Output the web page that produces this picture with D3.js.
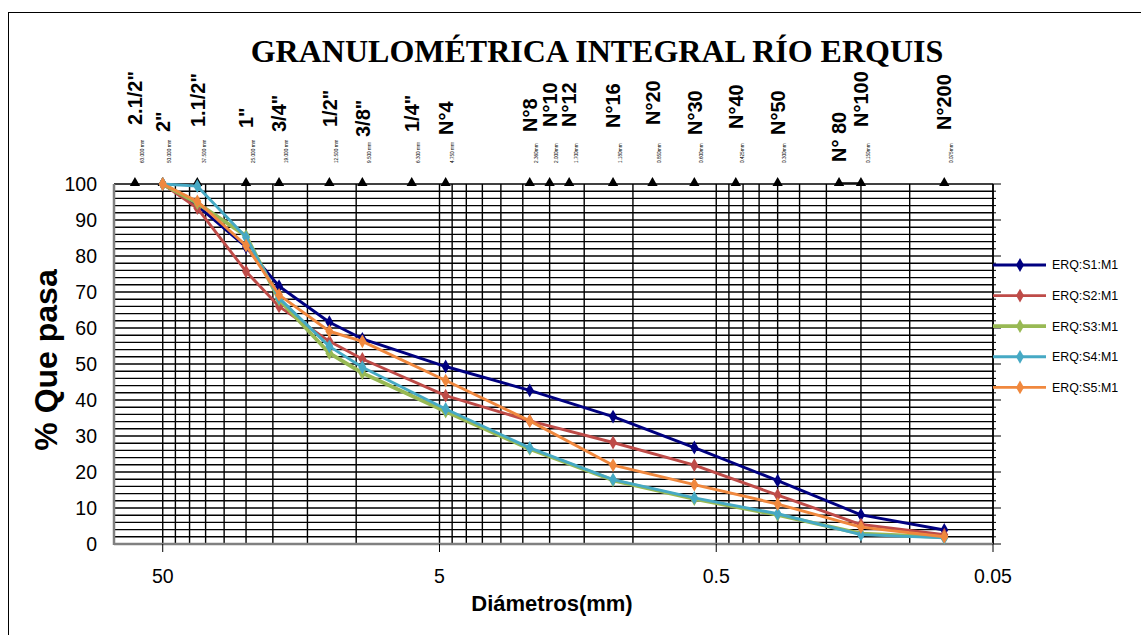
<!DOCTYPE html>
<html>
<head>
<meta charset="utf-8">
<script src="https://cdnjs.cloudflare.com/ajax/libs/d3/7.8.5/d3.min.js"></script>
<style>
  body { margin: 0; background: #fff; }
  svg { display: block; }
</style>
</head>
<body>
<svg id="chart"></svg>
<script>
// sieve sizes in mm (data points of the curves)
const sizes = [50, 37.5, 25, 19, 12.5, 9.5, 4.75, 2.36, 1.18, 0.6, 0.3, 0.15, 0.075];

const s1 = [100, 94.0, 82.5, 71.6, 61.6, 57.0, 49.3, 42.7, 35.4, 26.8, 17.6, 8.1, 3.9];
const s2 = [100, 93.3, 75.7, 66.0, 56.3, 51.4, 41.2, 34.2, 28.2, 21.9, 13.6, 5.4, 2.6];
const s3 = [100, 94.7, 85.6, 67.9, 53.0, 47.5, 36.8, 26.4, 17.7, 12.5, 8.1, 2.9, 1.9];
const s4 = [100, 99.4, 85.2, 68.3, 54.9, 49.1, 37.5, 26.7, 17.9, 12.8, 8.4, 2.6, 1.7];
const s5 = [100, 95.2, 82.9, 69.2, 59.1, 56.3, 45.4, 34.2, 21.9, 16.5, 11.1, 4.7, 2.0];

const seriesNames = ["ERQ:S1:M1", "ERQ:S2:M1", "ERQ:S3:M1", "ERQ:S4:M1", "ERQ:S5:M1"];
const seriesColors = ["#000080", "#BE4B48", "#98B954", "#46A9C4", "#F0883E"];

// sieve markers on top (y = 100)
const sieveMm = [63, 50, 37.5, 25, 19, 12.5, 9.5, 6.3, 4.75, 2.36, 2.0, 1.7, 1.18, 0.85, 0.6, 0.425, 0.3, 0.18, 0.15, 0.075];
const sieveNames = ['2.1/2"', '2"', '1.1/2"', '1"', '3/4"', '1/2"', '3/8"', '1/4"', 'N°4', 'N°8', 'N°10', 'N°12',
                    'N°16', 'N°20', 'N°30', 'N°40', 'N°50', 'N° 80', 'N°100', 'N°200'];
const sieveMmText = ["63.000 mm", "50.000 mm", "37.500 mm", "25.000 mm", "19.000 mm", "12.500 mm", "9.500 mm",
                     "6.300 mm", "4.750 mm", "2.360mm", "2.000mm", "1.700mm", "1.180mm", "0.850mm", "0.600mm",
                     "0.425mm", "0.300mm", "", "0.150mm", "0.075mm"];

const xTicks = [50, 5, 0.5, 0.05];
const xTickText = ["50", "5", "0.5", "0.05"];

// label placement (bottom end of each rotated sieve name)
const nameBottom = [125, 132, 127, 128, 132, 127, 137, 132, 135, 132, 127, 127, 128, 125, 135, 129, 135, 162, 127, 130];

const W = 1141, H = 635;
const svg = d3.select("#chart").attr("width", W).attr("height", H);

svg.append("rect")
    .attr("x", 8.5).attr("y", 12.5)
    .attr("width", 1140).attr("height", 640)
    .attr("fill", "none").attr("stroke", "#000").attr("stroke-width", 1);

let xScale = d3.scaleLog().domain([75, 0.05]).range([114, 993]);
let yScale = d3.scaleLinear().domain([0, 100]).range([544, 184]);

// vertical gridlines (log minor grid)
let vLines = [];
[0.05, 0.5, 5].forEach(b => {
    for (let k = 1; k <= 9; k++) vLines.push(b * k);
});
vLines.push(50);

const grid = svg.append("g");
grid.selectAll("line.v")
    .data(vLines)
    .enter().append("line")
    .attr("x1", d => xScale(d)).attr("x2", d => xScale(d))
    .attr("y1", yScale(0)).attr("y2", yScale(100))
    .attr("stroke", "#000").attr("stroke-width", 1.4);

grid.selectAll("line.h")
    .data(d3.range(2, 101, 2))
    .enter().append("line")
    .attr("x1", xScale(75)).attr("x2", xScale(0.05))
    .attr("y1", d => yScale(d)).attr("y2", d => yScale(d))
    .attr("stroke", "#000").attr("stroke-width", 1.4);

// right axis with ticks
const right = svg.append("g");
right.append("line")
    .attr("x1", xScale(0.05)).attr("x2", xScale(0.05))
    .attr("y1", yScale(0)).attr("y2", yScale(100))
    .attr("stroke", "#000").attr("stroke-width", 1.5);
right.selectAll("line.t")
    .data(d3.range(0, 101, 2))
    .enter().append("line")
    .attr("x1", xScale(0.05))
    .attr("x2", d => xScale(0.05) + (d % 10 == 0 ? 8 : 3))
    .attr("y1", d => yScale(d)).attr("y2", d => yScale(d))
    .attr("stroke", "#000").attr("stroke-width", 1);

// left + bottom axis lines
svg.append("line")
    .attr("x1", xScale(75)).attr("x2", xScale(75))
    .attr("y1", yScale(0) + 1).attr("y2", yScale(100))
    .attr("stroke", "#808080").attr("stroke-width", 2.5);
svg.append("line")
    .attr("x1", xScale(75)).attr("x2", xScale(0.05))
    .attr("y1", yScale(0)).attr("y2", yScale(0))
    .attr("stroke", "#808080").attr("stroke-width", 2.5);

svg.selectAll("line.xt")
    .data(xTicks)
    .enter().append("line")
    .attr("x1", d => xScale(d)).attr("x2", d => xScale(d))
    .attr("y1", yScale(0)).attr("y2", yScale(0) + 8)
    .attr("stroke", "#000").attr("stroke-width", 1);

svg.selectAll("text.xt")
    .data(xTicks)
    .enter().append("text")
    .attr("x", d => xScale(d))
    .attr("y", yScale(0) + 39)
    .attr("text-anchor", "middle")
    .attr("font-family", "Arial, 'Liberation Sans', sans-serif")
    .attr("font-size", 19.5)
    .text((d, i) => xTickText[i]);

svg.selectAll("text.yt")
    .data(d3.range(0, 101, 10))
    .enter().append("text")
    .attr("x", 97)
    .attr("y", d => yScale(d))
    .attr("dy", "0.35em")
    .attr("text-anchor", "end")
    .attr("font-family", "Arial, 'Liberation Sans', sans-serif")
    .attr("font-size", 19.5)
    .text(d => d);

// sieve triangles on top
svg.append("line")
    .attr("x1", xScale(0.18)).attr("x2", xScale(0.15))
    .attr("y1", yScale(100) - 1).attr("y2", yScale(100) - 1)
    .attr("stroke", "#000").attr("stroke-width", 1.5);

svg.selectAll("path.tri")
    .data(sieveMm)
    .enter().append("path")
    .attr("d", d3.symbol().type(d3.symbolTriangle).size(46))
    .attr("transform", d => "translate(" + xScale(d) + "," + (yScale(100) - 1) + ")")
    .attr("fill", "#000");

svg.selectAll("text.sname")
    .data(sieveMm)
    .enter().append("text")
    .attr("transform", (d, i) => "translate(" + xScale(d) + "," + nameBottom[i] + ") rotate(-90)")
    .attr("dy", "0.36em")
    .attr("font-family", "Arial, 'Liberation Sans', sans-serif")
    .attr("font-weight", "bold")
    .attr("font-size", 20)
    .text((d, i) => sieveNames[i]);

svg.selectAll("text.smm")
    .data(sieveMm)
    .enter().append("text")
    .attr("transform", d => "translate(" + (xScale(d) + 7) + ",163) rotate(-90)")
    .attr("dy", "0.35em")
    .attr("font-family", "Arial, 'Liberation Sans', sans-serif")
    .attr("font-size", 4.7)
    .text((d, i) => sieveMmText[i]);

// curves
const allSeries = [s1, s2, s3, s4, s5];
const lineGen = d3.line()
    .x((d, i) => xScale(sizes[i]))
    .y(d => yScale(d));
const diamond = d3.symbol().type(d3.symbolDiamond).size(55);

allSeries.forEach((vals, k) => {
    let g = svg.append("g");
    g.append("path")
        .datum(vals)
        .attr("d", lineGen)
        .attr("fill", "none")
        .attr("stroke", seriesColors[k])
        .attr("stroke-width", k == 2 ? 3.8 : 2.9)
        .attr("stroke-linejoin", "round");
    g.selectAll("path.m")
        .data(vals)
        .enter().append("path")
        .attr("d", diamond)
        .attr("transform", (d, i) => "translate(" + xScale(sizes[i]) + "," + yScale(d) + ")")
        .attr("fill", seriesColors[k]);
});

// legend
const legend = svg.append("g");
seriesNames.forEach((name, k) => {
    let ly = 265 + k * 30.6;
    legend.append("line")
        .attr("x1", 993).attr("x2", 1046)
        .attr("y1", ly).attr("y2", ly)
        .attr("stroke", seriesColors[k])
        .attr("stroke-width", k == 2 ? 3.8 : 2.9);
    legend.append("path")
        .attr("d", diamond)
        .attr("transform", "translate(1020," + ly + ")")
        .attr("fill", seriesColors[k]);
    legend.append("text")
        .attr("x", 1052).attr("y", ly)
        .attr("dy", "0.35em")
        .attr("font-family", "Arial, 'Liberation Sans', sans-serif")
        .attr("font-size", 12.4)
        .text(name);
});

// titles
svg.append("text")
    .attr("x", 597).attr("y", 62)
    .attr("text-anchor", "middle")
    .attr("font-family", "'Times New Roman', 'Liberation Serif', serif")
    .attr("font-weight", "bold")
    .attr("font-size", 32)
    .text("GRANULOMÉTRICA INTEGRAL RÍO ERQUIS");

svg.append("text")
    .attr("x", 552).attr("y", 611)
    .attr("text-anchor", "middle")
    .attr("font-family", "Arial, 'Liberation Sans', sans-serif")
    .attr("font-weight", "bold")
    .attr("font-size", 22)
    .text("Diámetros(mm)");

svg.append("text")
    .attr("transform", "translate(46,360) rotate(-90)")
    .attr("dy", "0.35em")
    .attr("text-anchor", "middle")
    .attr("font-family", "Arial, 'Liberation Sans', sans-serif")
    .attr("font-weight", "bold")
    .attr("font-size", 32)
    .text("% Que pasa");
</script>
</body>
</html>
